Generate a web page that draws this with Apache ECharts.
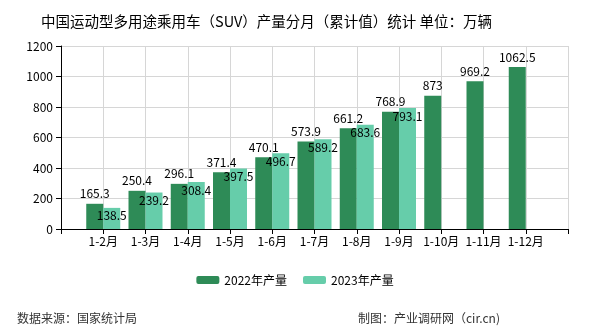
<!DOCTYPE html>
<html>
<head>
<meta charset="utf-8">
<script src="https://cdn.jsdelivr.net/npm/echarts@6/dist/echarts.min.js"></script>
<style>
html,body{margin:0;padding:0;background:#fff;}
#c{width:590px;height:330px;}
</style>
</head>
<body>
<div id="c"></div>
<script>
var categories = ['1-2月','1-3月','1-4月','1-5月','1-6月','1-7月','1-8月','1-9月','1-10月','1-11月','1-12月'];
var values2022 = [165.3, 250.4, 296.1, 371.4, 470.1, 573.9, 661.2, 768.9, 873, 969.2, 1062.5];
var values2023 = [138.5, 239.2, 308.4, 397.5, 496.7, 589.2, 683.6, 793.1];
var seriesNames = ['2022年产量', '2023年产量'];
var yTicks = [0, 200, 400, 600, 800, 1000, 1200];

var axisCats = [''].concat(categories).concat(['']);
function pad(arr) {
  var out = ['-'].concat(arr);
  while (out.length < axisCats.length) out.push('-');
  return out;
}
var FONT = '"Noto Sans CJK SC", sans-serif';
var chart = echarts.init(document.getElementById('c'), null, {renderer: 'canvas'});
chart.setOption({
  animation: false,
  backgroundColor: '#fff',
  textStyle: {fontFamily: FONT},
  title: [{
    text: '中国运动型多用途乘用车（SUV）产量分月（累计值）统计 单位：万辆',
    left: 36, top: 9,
    textStyle: {fontSize: 14.5, fontWeight: 'normal', color: '#000', fontFamily: FONT}
  }, {
    text: '数据来源：国家统计局',
    left: 12, top: 307,
    textStyle: {fontSize: 12, fontWeight: 'normal', color: '#333', fontFamily: FONT}
  }, {
    text: '制图：产业调研网（cir.cn)',
    right: 85, top: 307,
    textStyle: {fontSize: 12, fontWeight: 'normal', color: '#333', fontFamily: FONT}
  }],
  legend: {
    data: seriesNames,
    left: 'center', top: 269,
    itemWidth: 23, itemHeight: 8, itemGap: 16,
    textStyle: {fontSize: 12, color: '#000', fontFamily: FONT}
  },
  grid: {left: 61, right: 22, top: 46, bottom: 101},
  xAxis: {
    type: 'category',
    data: axisCats,
    boundaryGap: false,
    axisLine: {lineStyle: {color: '#000'}},
    axisTick: {show: true, interval: 0, length: 5, lineStyle: {color: '#000'}},
    axisLabel: {interval: 0, color: '#000', fontSize: 12, margin: 6, fontFamily: FONT},
    splitLine: {show: true, interval: 0, lineStyle: {color: '#d6d6d6'}}
  },
  yAxis: {
    type: 'value',
    min: yTicks[0], max: yTicks[yTicks.length - 1], interval: 200,
    axisLine: {show: true, lineStyle: {color: '#000'}},
    axisTick: {show: true, length: 5, lineStyle: {color: '#000'}},
    axisLabel: {color: '#000', fontSize: 12, margin: 8, fontFamily: FONT,
      formatter: function (v) { return String(v); }},
    splitLine: {show: true, lineStyle: {color: '#d6d6d6'}}
  },
  series: [{
    name: seriesNames[0],
    type: 'bar',
    data: pad(values2022),
    barWidth: 17,
    barGap: '0%',
    itemStyle: {color: '#2E8B57'},
    label: {show: true, position: 'top', distance: 4, color: '#000', fontSize: 12, fontFamily: FONT}
  }, {
    name: seriesNames[1],
    type: 'bar',
    data: pad(values2023),
    barWidth: 17,
    barGap: '0%',
    itemStyle: {color: '#66CDAA'},
    label: {show: true, position: 'insideTop', distance: 2, color: '#000', fontSize: 12, fontFamily: FONT}
  }]
});
</script>
</body>
</html>
